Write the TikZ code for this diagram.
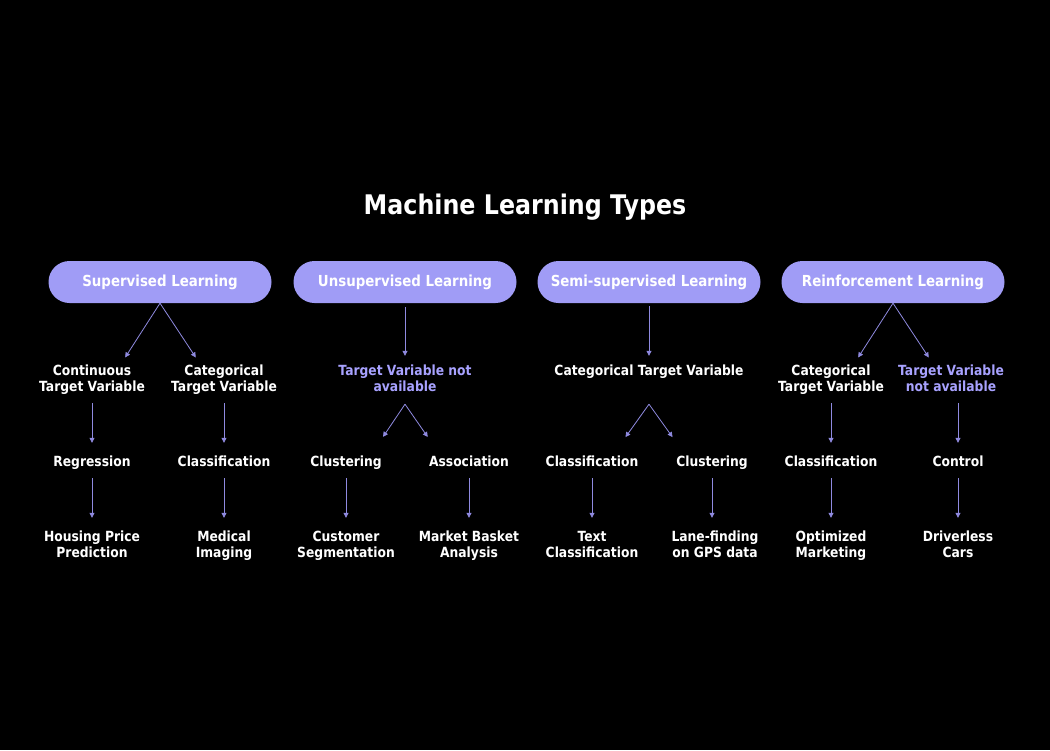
\documentclass[tikz,border=0pt]{standalone}
\usepackage{fontspec}
\setmainfont{DejaVu Sans}[FakeStretch=0.88]
\usepackage{xcolor}
\usetikzlibrary{arrows.meta}
\definecolor{pillc}{RGB}{160,156,246}
\definecolor{hilite}{RGB}{168,162,255}
\definecolor{linec}{RGB}{143,138,224}

\tikzset{
  pill/.style={rounded corners=21pt, fill=pillc, text=white, minimum width=223pt, minimum height=42pt, inner sep=0pt, text height=11pt, text depth=3pt, font=\bfseries\fontsize{15.2}{17}\selectfont},
  item/.style={text=white, align=center, inner sep=2pt, text height=12pt, text depth=2pt, font=\bfseries\fontsize{14}{16}\selectfont},
  item2/.style={item, text height=28pt, text depth=2pt},
  na/.style={item2, text=hilite},
  edge/.style={draw=linec, line width=0.8pt, -{Triangle[length=5pt,width=5pt]}}
}

\begin{document}
\begin{tikzpicture}[x=1pt,y=-1pt]
\fill[black] (0,0) rectangle (1050,750);
\useasboundingbox (0,0) rectangle (1050,750);
\node[text=white, anchor=base, font=\bfseries\fontsize{27}{32}\selectfont] (title) at (525,214) {Machine Learning Types};
% the four types
\node[pill] (sup) at (160,282) {Supervised Learning};
\node[pill] (uns) at (405,282) {Unsupervised Learning};
\node[pill] (semi) at (649,282) {Semi-supervised Learning};
\node[pill] (rein) at (893,282) {Reinforcement Learning};
% supervised
\node[item2] (supl) at (92,378) {Continuous\\Target Variable};
\node[item2] (supr) at (224,378) {Categorical\\Target Variable};
\node[item] (supll) at (92,461) {Regression};
\node[item] (suprl) at (224,461) {Classification};
\node[item2] (suplll) at (92,544) {Housing Price\\Prediction};
\node[item2] (suprll) at (224,544) {Medical\\Imaging};
% unsupervised
\node[na] (unsl) at (405,378) {Target Variable not\\available};
\node[item] (unsll) at (346,461) {Clustering};
\node[item] (unslr) at (469,461) {Association};
\node[item2] (unslll) at (346,544) {Customer\\Segmentation};
\node[item2] (unslrl) at (469,544) {Market Basket\\Analysis};
% semi-supervised
\node[item] (semil) at (649,370) {Categorical Target Variable};
\node[item] (semill) at (592,461) {Classification};
\node[item] (semilr) at (712,461) {Clustering};
\node[item2] (semilll) at (592,544) {Text\\Classification};
\node[item2] (semilrl) at (715,544) {Lane-finding\\on GPS data};
% reinforcement
\node[item2] (reinl) at (831,378) {Categorical\\Target Variable};
\node[na] (reinr) at (951,378) {Target Variable\\not available};
\node[item] (reinll) at (831,461) {Classification};
\node[item] (reinrl) at (958,461) {Control};
\node[item2] (reinlll) at (831,544) {Optimized\\Marketing};
\node[item2] (reinrll) at (958,544) {Driverless\\Cars};
\coordinate (unsfork) at ([yshift=-9pt]unsl.south);
\coordinate (semifork) at ([yshift=-25pt]semil.south);

\draw[edge, shorten >=4pt] (sup.south) -- ([xshift=31]supl.north);
\draw[edge, shorten >=4pt] (sup.south) -- ([xshift=-26]supr.north);
\draw[edge, shorten <=8pt, shorten >=9pt] (supl.south) -- (supll.north);
\draw[edge, shorten <=8pt, shorten >=9pt] (supr.south) -- (suprl.north);
\draw[edge, shorten <=8pt, shorten >=9pt] (supll.south) -- (suplll.north);
\draw[edge, shorten <=8pt, shorten >=9pt] (suprl.south) -- (suprll.north);

\draw[edge, shorten <=4pt, shorten >=5pt] (uns.south) -- (unsl.north);
\draw[edge, shorten >=18pt] (unsfork) -- ([xshift=27]unsll.north);
\draw[edge, shorten >=18pt] (unsfork) -- ([xshift=-31]unslr.north);
\draw[edge, shorten <=8pt, shorten >=9pt] (unsll.south) -- (unslll.north);
\draw[edge, shorten <=8pt, shorten >=9pt] (unslr.south) -- (unslrl.north);

\draw[edge, shorten <=3pt, shorten >=5pt] (semi.south) -- (semil.north);
\draw[edge, shorten >=18pt] (semifork) -- ([xshift=23]semill.north);
\draw[edge, shorten >=18pt] (semifork) -- ([xshift=-29]semilr.north);
\draw[edge, shorten <=8pt, shorten >=9pt] (semill.south) -- (semilll.north);
\draw[edge, shorten <=8pt, shorten >=9pt] (semilr.south) -- (semilr.south |- semilrl.north);

\draw[edge, shorten >=4pt] (rein.south) -- ([xshift=25]reinl.north);
\draw[edge, shorten >=4pt] (rein.south) -- ([xshift=-20]reinr.north);
\draw[edge, shorten <=8pt, shorten >=9pt] (reinl.south) -- (reinll.north);
\draw[edge, shorten <=8pt, shorten >=9pt] (reinrl.north |- reinr.south) -- (reinrl.north);
\draw[edge, shorten <=8pt, shorten >=9pt] (reinll.south) -- (reinlll.north);
\draw[edge, shorten <=8pt, shorten >=9pt] (reinrl.south) -- (reinrll.north);
\end{tikzpicture}
\end{document}
